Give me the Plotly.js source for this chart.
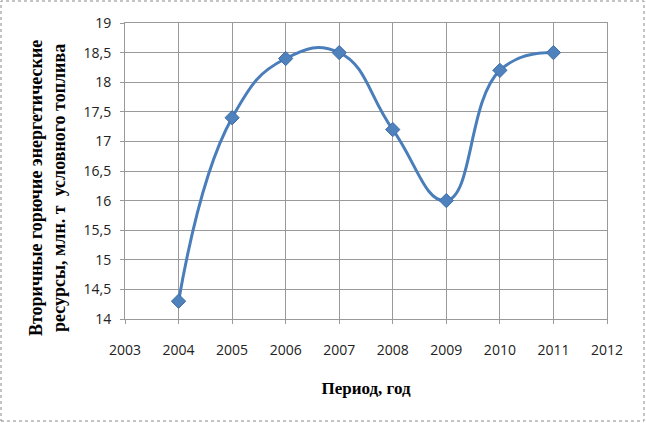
<!DOCTYPE html>
<html>
<head>
<meta charset="utf-8">
<script src="https://cdn.plot.ly/plotly-3.0.1.min.js"></script>
<style>html,body{margin:0;padding:0;background:#fff;}</style>
</head>
<body>
<div id="chart" style="width:646px;height:423px;"></div>
<script>
const years = [2004, 2005, 2006, 2007, 2008, 2009, 2010, 2011];
const values = [14.3, 17.4, 18.4, 18.5, 17.2, 16.0, 18.2, 18.5];
const xTitle = 'Период, год';
const yTitle = 'Вторичные горючие энергетические<br>ресурсы, млн. т  условного топлива';

const trace = {
  x: years, y: values, type: 'scatter', mode: 'lines+markers',
  line: {shape: 'spline', smoothing: 1.3, color: '#4a7ebb', width: 3},
  marker: {symbol: 'diamond', size: 11, color: '#4f81bd', line: {color: '#3f6ea8', width: 1}}
};
const grid = '#9a9a9a';
const tickFont = {family: 'Open Sans, sans-serif', size: 14, color: '#222'};
const titleFont = {family: 'Liberation Serif, serif', size: 17, color: '#000', weight: 'bold'};
const L = 125, R = 39, T = 23, B = 104, W = 646, H = 423;
const pw = W - L - R, ph = H - T - B;
const layout = {
  width: W, height: H,
  margin: {l: L, r: R, t: T, b: B},
  paper_bgcolor: '#fff', plot_bgcolor: '#fff',
  separators: ', ',
  showlegend: false,
  font: tickFont,
  xaxis: {
    range: [2003, 2012], dtick: 1, tick0: 2003, showgrid: true, gridcolor: grid, gridwidth: 1,
    zeroline: false, showline: true, linecolor: grid, mirror: true,
    ticks: 'outside', ticklen: 4, tickcolor: grid, ticklabelstandoff: 14,
    tickfont: tickFont,
    title: {text: xTitle, standoff: 24, font: titleFont}
  },
  yaxis: {
    range: [14, 19], dtick: 0.5, tick0: 14, showgrid: true, gridcolor: grid, gridwidth: 1,
    zeroline: false, showline: true, linecolor: grid, mirror: true,
    ticks: 'outside', ticklen: 4, tickcolor: grid, ticklabelstandoff: 6,
    tickfont: tickFont
  },
  annotations: [{
    text: yTitle, xref: 'paper', yref: 'paper',
    x: (47 - L) / pw, y: (H - B - 188) / ph, xanchor: 'center', yanchor: 'middle',
    textangle: -90, showarrow: false, align: 'center',
    font: {family: 'Liberation Serif, serif', size: 18, color: '#000', weight: 'bold'}
  }],
  shapes: [{
    type: 'rect', xref: 'paper', yref: 'paper',
    x0: (1 - L) / pw, x1: (644 - L) / pw,
    y0: -(421 - (H - B)) / ph, y1: (H - B - 1) / ph,
    line: {color: '#8a8a8a', width: 1, dash: 'dot'}, fillcolor: 'rgba(0,0,0,0)', layer: 'below'
  }]
};
Plotly.newPlot('chart', [trace], layout, {displayModeBar: false, staticPlot: true});
</script>
</body>
</html>
